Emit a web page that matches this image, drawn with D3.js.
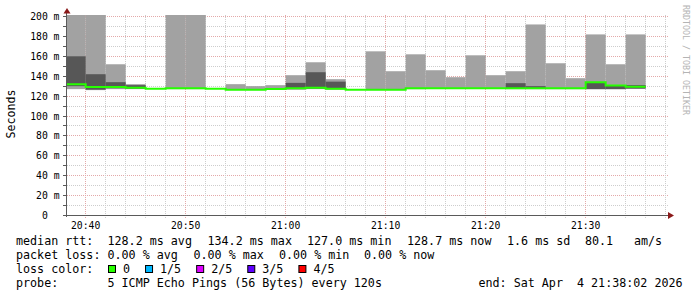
<!DOCTYPE html>
<html><head><meta charset="utf-8">
<script src="https://cdn.jsdelivr.net/npm/d3@7"></script>
<style>
html,body{margin:0;padding:0;background:#fff;}
svg{display:block;}
text{font-family:"DejaVu Sans Mono",monospace;white-space:pre;}
</style>
</head><body>
<svg id="c" width="697" height="297"></svg>
<script>
// ---- data ----
const times = ["20:38","20:40","20:42","20:44","20:46","20:48","20:50","20:52","20:54","20:56",
               "20:58","21:00","21:02","21:04","21:06","21:08","21:10","21:12","21:14","21:16",
               "21:18","21:20","21:22","21:24","21:26","21:28","21:30","21:32","21:34","21:36"];
const pingMin = [127,126,127,127,127.5,127,127,127.5,126,126,126.5,126.5,127,126.5,126.4,126,126,127,127.5,127.5,127.5,127.5,127,127,127,127,127,127,127.5,null];
const pingLow = [130,126.5,128,127.5,127.5,128,128,127.5,126.5,126.5,127,127,127.5,127,126.4,126.4,126.4,127.8,128,128,128,128,127.5,127.5,127.8,127.8,127,127,127.5,null];
const median  = [132,129.2,129.2,128.4,127.5,128,128,127.5,126.5,126.5,127.2,128,128.3,127.3,126.4,126.4,126.4,127.8,128,128,128,128,128,127.8,127.8,127.8,134,130.7,129.5,null];
const pingHigh= [160,142,134,131,127.5,128,128,127.5,126.5,126.5,127.2,133.3,144,134.5,126.4,126.4,126.4,127.8,128,128,128,128,133,130,127.8,127.8,134,130.7,131,null];
const pingMax = [205,205,152,132,127.5,205,205,127.5,132,130,131,141,154,137,126.4,165,145,162,146,139,161,141,145,192,153,138,182,152,182,null];
const stepMinutes = 2;
const rangeStart = "20:38:02", rangeEnd = "21:38:02";
const yTicks = [0,20,40,60,80,100,120,140,160,180,200];
const yTickLabels = ["0  ","20 m","40 m","60 m","80 m","100 m","120 m","140 m","160 m","180 m","200 m"];
const yMinor = [10,30,50,70,90,110,130,150,170,190];
const xTickLabels = ["20:40","20:50","21:00","21:10","21:20","21:30"];
const lossLabels = ["0","1/5","2/5","3/5","4/5"];
const legendLine1 = ["median rtt:","128.2 ms avg","134.2 ms max","127.0 ms min","128.7 ms now","1.6 ms sd","80.1","am/s"];
const legendLine2 = ["packet loss:","0.00 % avg","0.00 % max","0.00 % min","0.00 % now"];
const legendLine4 = ["probe:","5 ICMP Echo Pings (56 Bytes) every 120s","end: Sat Apr  4 21:38:02 2026"];

// ---- styles ----
const lossColors = ["#26ff00","#00b8ff","#dd00ff","#5e00ff","#ff0000"];
const lightSmoke = "#a2a2a2", darkSmoke = "#575757", medianColor = "#26ff00";
const axisColor = "#5a5a5a", arrowColor = "#8b1a1a";
const gridColor = "#cdcdcd", mgridColor = "#e3a9a9";

const svg = d3.select("#c");
const pT = d3.timeParse("%H:%M:%S");
const pM = d3.timeParse("%H:%M");
const X0 = 66, X1 = 666, YTOP = 15, YBOT = 216;
const x = d3.scaleTime().domain([pT(rangeStart), pT(rangeEnd)]).range([X0, X1]);
const y = d3.scaleLinear().domain([0, 200]).range([215.5, 16.5]);
const snap = v => Math.floor(v) + 0.5;

svg.append("rect").attr("width",697).attr("height",297).attr("fill","#fff");

// grid
const g = svg.append("g");
yMinor.forEach(v => g.append("line").attr("x1",63).attr("x2",668)
  .attr("y1",snap(y(v))).attr("y2",snap(y(v))).attr("stroke",gridColor).attr("stroke-dasharray","1,1"));
yTicks.filter(v=>v>0).forEach(v => g.append("line").attr("x1",63).attr("x2",668)
  .attr("y1",snap(y(v))).attr("y2",snap(y(v))).attr("stroke",mgridColor).attr("stroke-dasharray","1,1"));
const minorTimes = d3.timeMinute.every(2).range(pT("20:39:00"), pT(rangeEnd));
const majorSet = new Set(xTickLabels);
const fmt = d3.timeFormat("%H:%M");
minorTimes.forEach(t => {
  const major = majorSet.has(fmt(t));
  g.append("line").attr("x1",snap(x(t))).attr("x2",snap(x(t))).attr("y1",YTOP).attr("y2",218)
   .attr("stroke", major ? mgridColor : gridColor).attr("stroke-dasharray","1,1");
});

// smoke
svg.append("clipPath").attr("id","clip").append("rect")
  .attr("x",X0+0.5).attr("y",YTOP).attr("width",X1-X0).attr("height",YBOT-YTOP);
const bars = times.map((t,i)=>({t0:pM(t), t1:d3.timeMinute.offset(pM(t),stepMinutes),
  mn:pingMin[i], lo:pingLow[i], md:median[i], hi:pingHigh[i], mx:pingMax[i]})).filter(d=>d.md!=null);
const sg = svg.append("g").attr("clip-path","url(#clip)");
sg.selectAll("rect.light").data(bars).join("rect").attr("class","light")
  .attr("x",d=>x(d.t0)).attr("width",d=>x(d.t1)-x(d.t0))
  .attr("y",d=>y(d.mx)).attr("height",d=>Math.max(0,y(d.mn)-y(d.mx))).attr("fill",lightSmoke);
sg.selectAll("rect.dark").data(bars).join("rect").attr("class","dark")
  .attr("x",d=>x(d.t0)).attr("width",d=>x(d.t1)-x(d.t0))
  .attr("y",d=>y(d.hi)).attr("height",d=>Math.max(0,y(d.lo)-y(d.hi))).attr("fill",darkSmoke);
const pts = [];
bars.forEach(d => { pts.push([d.t0,d.md]); pts.push([d.t1,d.md]); });
sg.append("path").attr("d", d3.line().x(p=>x(p[0])).y(p=>y(p[1]))(pts))
  .attr("fill","none").attr("stroke",medianColor).attr("stroke-width",2);

// axes
svg.append("line").attr("x1",66.5).attr("x2",66.5).attr("y1",13).attr("y2",217).attr("stroke",axisColor);
svg.append("line").attr("x1",63).attr("x2",668).attr("y1",215.5).attr("y2",215.5).attr("stroke",axisColor);
yTicks.concat(yMinor).forEach(v => svg.append("line").attr("x1",63).attr("x2",66)
  .attr("y1",snap(y(v))).attr("y2",snap(y(v))).attr("stroke",axisColor));
svg.append("path").attr("d","M63.5,13.5L67,8L70.5,13.5Z").attr("fill",arrowColor);
svg.append("path").attr("d","M668,212L674,215.5L668,219Z").attr("fill",arrowColor);

// tick labels
yTicks.forEach((v,i) => svg.append("text").attr("x",59.5).attr("y",y(v)+3.5)
  .attr("text-anchor","end").attr("font-size","9.75px").attr("fill","#000").text(yTickLabels[i]));
xTickLabels.forEach(l => svg.append("text").attr("x",x(pM(l))).attr("y",229)
  .attr("text-anchor","middle").attr("font-size","9.75px").attr("fill","#000").text(l));

svg.append("text").attr("transform","translate(11,114) rotate(-90)").attr("text-anchor","middle")
  .attr("dominant-baseline","central").attr("font-size","11.6px").attr("fill","#000").text("Seconds");
svg.append("text").attr("transform","translate(686,60) rotate(90)").attr("text-anchor","middle")
  .attr("dominant-baseline","central").attr("font-size","8.3px").attr("fill","#b4b4b4").text("RRDTOOL / TOBI OETIKER");

// legend
const fs = "11.7px";
const put = (s, xx, yy) => svg.append("text").attr("x",xx).attr("y",yy).attr("font-size",fs).attr("fill","#000").text(s);
const l1x = [16,107.5,207.5,307,407,507,585,634];
legendLine1.forEach((s,i)=>put(s,l1x[i],245));
const l2x = [16,107.5,193.5,279,364];
legendLine2.forEach((s,i)=>put(s,l2x[i],259));
put("loss color:",16,273);
let bx = 108;
lossLabels.forEach((l,i) => {
  svg.append("rect").attr("x",bx+0.5).attr("y",265.5).attr("width",7).attr("height",7)
    .attr("fill",lossColors[i]).attr("stroke","#000");
  put(l, bx+15, 273);
  bx = bx + 15 + l.length*7.04 + 15;
});
const l4x = [16,107.5,478.5];
legendLine4.forEach((s,i)=>put(s,l4x[i],287));
</script>
</body></html>
